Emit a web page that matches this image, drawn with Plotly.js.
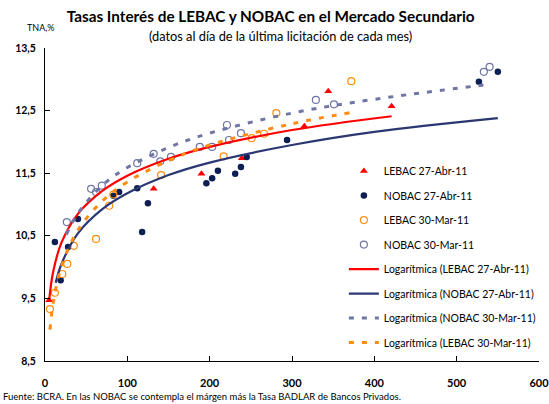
<!DOCTYPE html>
<html>
<head>
<meta charset="utf-8">
<script src="https://cdn.plot.ly/plotly-3.0.1.min.js"></script>
<style>html,body{margin:0;padding:0;background:#fff;}#chart{width:549px;height:404px;}</style>
</head>
<body>
<div id="chart"></div>
<script>
// ---- Data ----
const lebacAbrX = [5, 132, 190, 239, 315, 344, 421];
const lebacAbrY = [9.47, 11.25, 11.49, 11.74, 12.25, 12.81, 12.57];

const nobacAbrX = [12, 19, 28, 40, 83, 90, 112, 118, 125, 196, 203, 210, 231, 238, 245, 294, 527, 550];
const nobacAbrY = [10.40, 9.79, 10.32, 10.77, 11.14, 11.20, 11.26, 10.56, 11.02, 11.34, 11.42, 11.54, 11.49, 11.60, 11.76, 12.03, 12.96, 13.12];

const lebacMarX = [6, 12, 21, 27, 35, 62, 78, 83, 141, 217, 251, 266, 281, 372];
const lebacMarY = [9.33, 9.59, 9.89, 10.05, 10.34, 10.45, 10.98, 11.16, 11.47, 11.77, 12.06, 12.13, 12.46, 12.97];

const nobacMarX = [26.5, 56, 62, 69, 112, 132, 140, 153, 188, 203, 221, 223.5, 238, 329, 351, 533, 540];
const nobacMarY = [10.72, 11.25, 11.20, 11.30, 11.66, 11.81, 11.69, 11.76, 11.92, 11.92, 12.27, 12.03, 12.14, 12.67, 12.60, 13.12, 13.20];

// Trend lines (logarithmic)
const trLebacAbrX = [5, 10, 20, 40, 70, 100, 150, 200, 300, 421];
const trLebacAbrY = [9.47, 9.93, 10.39, 10.85, 11.22, 11.46, 11.73, 11.92, 12.19, 12.41];

const trNobacAbrX = [13, 20, 40, 70, 100, 150, 200, 300, 400, 550];
const trNobacAbrY = [9.75, 10.05, 10.54, 10.93, 11.18, 11.47, 11.67, 11.95, 12.16, 12.38];

const trNobacMarX = [26, 40, 70, 100, 150, 200, 300, 400, 540];
const trNobacMarY = [10.52, 10.86, 11.31, 11.59, 11.91, 12.14, 12.46, 12.68, 12.92];

const trLebacMarX = [6, 10, 20, 40, 70, 100, 150, 200, 300, 372];
const trLebacMarY = [9.00, 9.43, 10.01, 10.59, 11.06, 11.36, 11.70, 11.95, 12.29, 12.47];

const names = ["LEBAC 27-Abr-11", "NOBAC 27-Abr-11", "LEBAC 30-Mar-11", "NOBAC 30-Mar-11",
  "Logarítmica (LEBAC 27-Abr-11)", "Logarítmica (NOBAC 27-Abr-11)",
  "Logarítmica (NOBAC 30-Mar-11)", "Logarítmica (LEBAC 30-Mar-11)"];
const xTicks = [0, 100, 200, 300, 400, 500, 600];
const yTicks = [8.5, 9.5, 10.5, 11.5, 12.5, 13.5];

const RED = "#ff0000", NAVY = "#0d1f52", NAVYLINE = "#2b3773", ORANGE = "#ff8c10", SLATE = "#6f76a3";
const FONT = "Lato, 'Open Sans', sans-serif";

const traces = [
  {x: lebacAbrX, y: lebacAbrY, name: names[0], mode: "markers", type: "scatter",
   marker: {symbol: "triangle-up", color: RED, size: 7}},
  {x: nobacAbrX, y: nobacAbrY, name: names[1], mode: "markers", type: "scatter",
   marker: {symbol: "circle", color: NAVY, size: 6.5}},
  {x: lebacMarX, y: lebacMarY, name: names[2], mode: "markers", type: "scatter",
   marker: {symbol: "circle-open", color: ORANGE, size: 7, line: {width: 1.2, color: ORANGE}}},
  {x: nobacMarX, y: nobacMarY, name: names[3], mode: "markers", type: "scatter",
   marker: {symbol: "circle-open", color: SLATE, size: 7, line: {width: 1.2, color: SLATE}}},
  {x: trLebacAbrX, y: trLebacAbrY, name: names[4], mode: "lines", type: "scatter",
   line: {color: RED, width: 2.2, shape: "spline"}},
  {x: trNobacAbrX, y: trNobacAbrY, name: names[5], mode: "lines", type: "scatter",
   line: {color: NAVYLINE, width: 2.2, shape: "spline"}},
  {x: trNobacMarX, y: trNobacMarY, name: names[6], mode: "lines", type: "scatter",
   line: {color: SLATE, width: 3, dash: "5px,8px", shape: "spline"}},
  {x: trLebacMarX, y: trLebacMarY, name: names[7], mode: "lines", type: "scatter",
   line: {color: ORANGE, width: 3, dash: "5px,8px", shape: "spline"}}
];
traces.forEach((t, i) => { t.legendgroup = "g" + i; t.hoverinfo = "skip"; });

const layout = {
  width: 549, height: 404,
  margin: {l: 45, r: 10, t: 48, b: 43, autoexpand: false},
  paper_bgcolor: "#fff", plot_bgcolor: "#fff",
  separators: ",.",
  font: {family: FONT, color: "#000", size: 11},
  title: {text: "<b>Tasas Interés de LEBAC y NOBAC en el Mercado Secundario</b>",
    font: {family: FONT, size: 15.3, color: "#000"},
    xref: "container", x: 0.493, xanchor: "center", yref: "container", y: 0.96, yanchor: "middle"},
  xaxis: {range: [0, 600], tickvals: xTicks, ticktext: xTicks.map(v => "<b>" + v + "</b>"),
    automargin: false, ticklabeloverflow: "allow",
    showgrid: false, zeroline: false, showline: true, linecolor: "#000", linewidth: 1,
    ticks: "inside", ticklen: 5, tickcolor: "#000", tickfont: {family: FONT, size: 11},
    ticklabelstandoff: 12, fixedrange: true},
  yaxis: {range: [8.5, 13.5], tickvals: yTicks, ticktext: yTicks.map(v => "<b>" + v.toFixed(1).replace(".", ",") + "</b>"),
    automargin: false, ticklabeloverflow: "allow",
    showgrid: false, zeroline: false, showline: true, linecolor: "#000", linewidth: 1,
    ticks: "inside", ticklen: 5, tickcolor: "#000", tickfont: {family: FONT, size: 10.5},
    ticklabelstandoff: 6, fixedrange: true},
  showlegend: true,
  legend: {x: 0.605, xanchor: "left", y: 0.653, yanchor: "top", bgcolor: "rgba(0,0,0,0)",
    font: {family: FONT, size: 10.5}, tracegroupgap: 5.5, itemwidth: 30},
  annotations: [
    {text: "(datos al día de la última licitación de cada mes)", xref: "paper", yref: "paper",
     x: 0.477, y: 1.038, xanchor: "center", yanchor: "middle", showarrow: false, font: {family: FONT, size: 12.8}},
    {text: "TNA,%", xref: "paper", yref: "paper", x: -0.008, y: 1.067, xanchor: "center", yanchor: "middle",
     showarrow: false, font: {family: FONT, size: 9}},
    {text: "Fuente: BCRA. En las NOBAC se contempla el márgen más la Tasa BADLAR de Bancos Privados.",
     xref: "paper", yref: "paper", x: -0.089, y: -0.112, xanchor: "left", yanchor: "middle",
     showarrow: false, font: {family: FONT, size: 9.5}}
  ]
};

Plotly.newPlot("chart", traces, layout, {displayModeBar: false, staticPlot: true});
</script>
</body>
</html>
